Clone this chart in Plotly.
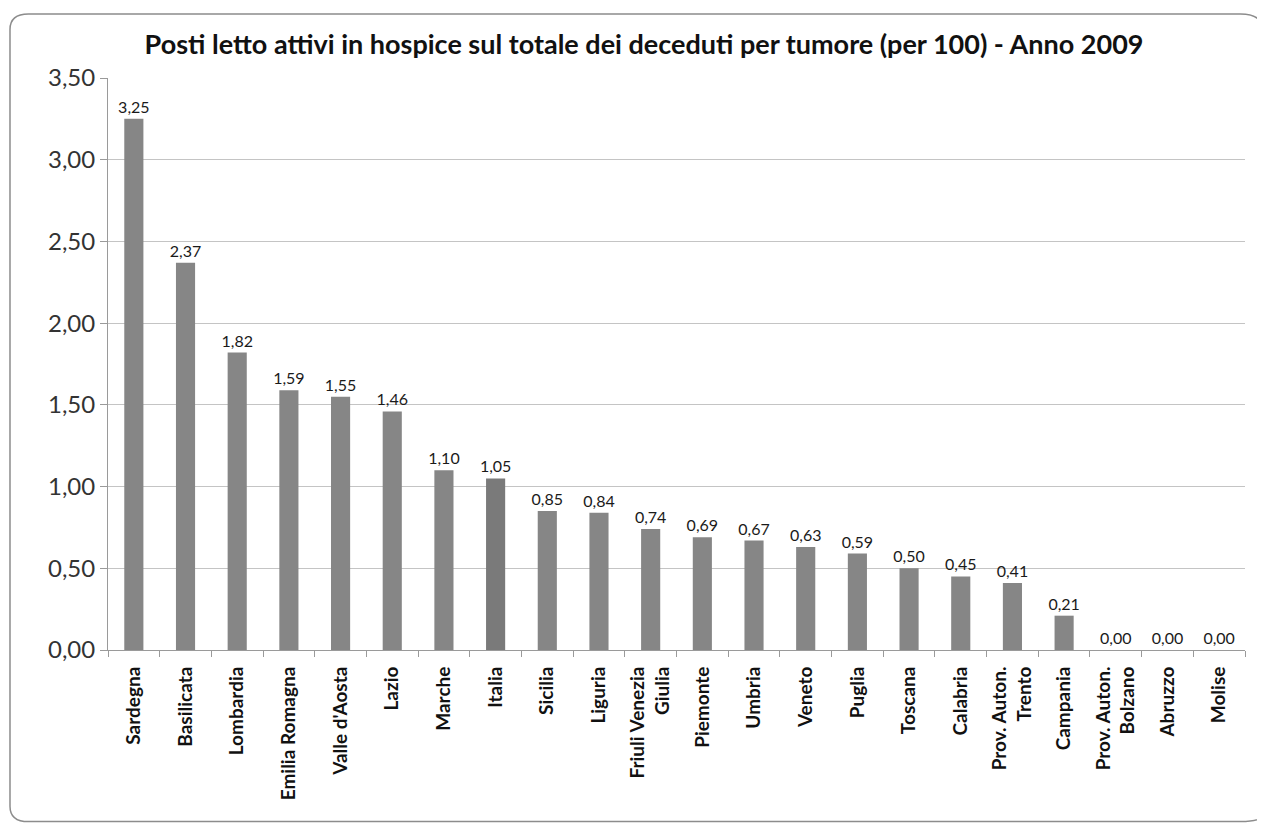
import plotly.graph_objects as go

TITLE = "Posti letto attivi in hospice sul totale dei deceduti per tumore (per 100) - Anno 2009"

regions = [
    "Sardegna", "Basilicata", "Lombardia", "Emilia Romagna", "Valle d'Aosta",
    "Lazio", "Marche", "Italia", "Sicilia", "Liguria", "Friuli Venezia<br>Giulia",
    "Piemonte", "Umbria", "Veneto", "Puglia", "Toscana", "Calabria",
    "Prov. Auton.<br>Trento", "Campania", "Prov. Auton.<br>Bolzano", "Abruzzo", "Molise",
]
beds_per_100 = [
    3.25, 2.37, 1.82, 1.59, 1.55, 1.46, 1.10, 1.05, 0.85, 0.84, 0.74,
    0.69, 0.67, 0.63, 0.59, 0.50, 0.45, 0.41, 0.21, 0.00, 0.00, 0.00,
]
y_ticks = [0, 0.5, 1.0, 1.5, 2.0, 2.5, 3.0, 3.5]

BAR_COLOR = "#868686"
TOTAL_COLOR = "#7a7a7a"
GRID = "#c4c4c4"
FONT = "Lato"

colors = [TOTAL_COLOR if r == "Italia" else BAR_COLOR for r in regions]

fig = go.Figure(
    go.Bar(
        x=regions,
        y=beds_per_100,
        marker=dict(color=colors, line=dict(width=0)),
        texttemplate="%{y:.2f}",
        textposition="outside",
        constraintext="none",
        cliponaxis=False,
        textfont=dict(size=16, color="#1a1a1a", family=FONT),
    )
)

# the page body adds an 8px margin, so the figure is 8px smaller each way
fig.update_layout(
    width=1257,
    height=818,
    paper_bgcolor="white",
    plot_bgcolor="white",
    separators=",.",
    showlegend=False,
    bargap=0.63,
    margin=dict(l=100, r=20, t=70, b=176),
    font=dict(family=FONT, color="#222222"),
    title=dict(
        text=f"<b>{TITLE}</b>",
        x=0.506,
        xanchor="center",
        y=1 - 37 / 818,
        yanchor="middle",
        font=dict(size=27, family=FONT, color="#111111"),
    ),
    shapes=[
        dict(
            type="path",
            xref="paper",
            yref="paper",
            path="M -0.070,1.112 L 0.996,1.112 Q 1.015,1.112 1.015,1.085 "
                 "L 1.015,-0.288 Q 1.015,-0.300 0.996,-0.300 "
                 "L -0.070,-0.300 Q -0.0862,-0.300 -0.0862,-0.273 "
                 "L -0.0862,1.085 Q -0.0862,1.112 -0.070,1.112 Z",
            line=dict(color="#8c8c8c", width=1.5),
            layer="below",
        )
    ],
)

fig.update_yaxes(
    range=[0, 3.5],
    tickvals=y_ticks,
    tickformat=".2f",
    showgrid=True,
    gridcolor=GRID,
    gridwidth=1,
    showline=True,
    linecolor="#9a9a9a",
    ticks="outside",
    ticklen=7,
    tickcolor="#9a9a9a",
    tickfont=dict(size=24, family=FONT, color="#333333"),
    zeroline=False,
)
fig.update_xaxes(
    showline=True,
    linecolor="#9a9a9a",
    ticks="outside",
    tickson="boundaries",
    ticklen=6,
    tickcolor="#9a9a9a",
    tickangle=-90,
    ticklabelstandoff=8,
    tickfont=dict(size=19, family=FONT, color="#111111", weight="bold"),
)

fig.write_html("out.html")
